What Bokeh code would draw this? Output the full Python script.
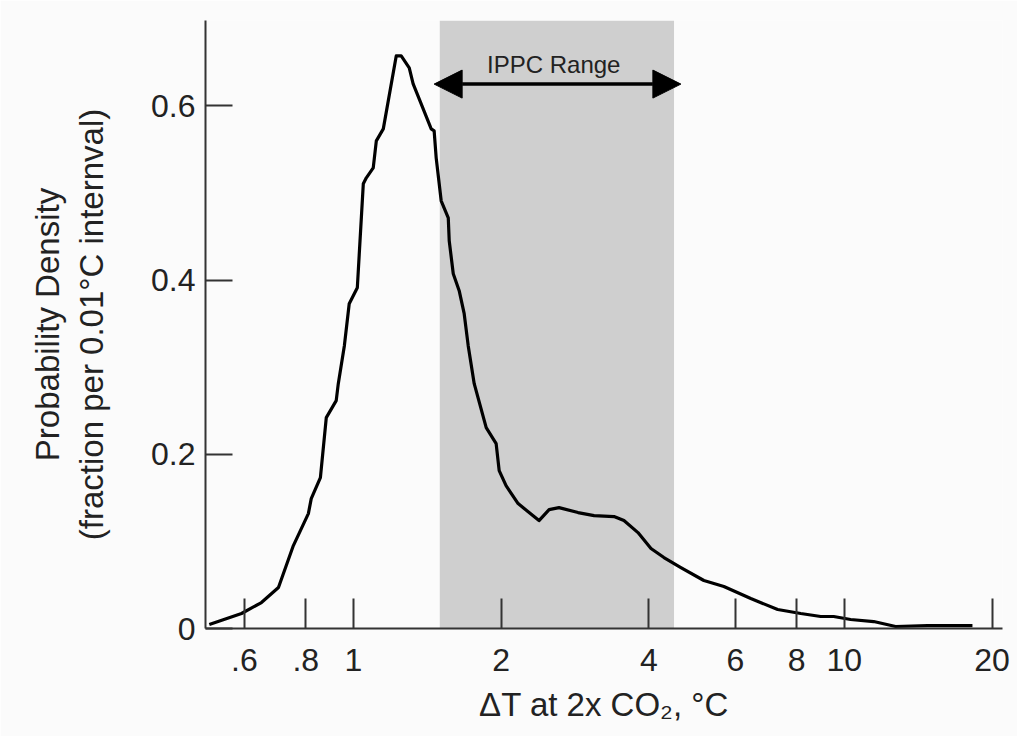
from bokeh.plotting import figure
from bokeh.models import (Range1d, FixedTicker, CustomJSTickFormatter, BoxAnnotation,
                          Arrow, NormalHead, Label)
from bokeh.embed import file_html
from bokeh.resources import INLINE

# Climate sensitivity (deg C at 2x CO2) and probability density
dT = [0.509, 0.592, 0.650, 0.704, 0.755, 0.810, 0.821, 0.857, 0.881, 0.923,
      0.932, 0.959, 0.981, 1.019, 1.048, 1.063, 1.098, 1.114, 1.151, 1.223,
      1.252, 1.300, 1.324, 1.362, 1.441, 1.461, 1.475, 1.510, 1.561, 1.568,
      1.598, 1.643, 1.682, 1.714, 1.763, 1.865, 1.954, 1.982, 2.047, 2.166,
      2.389, 2.505, 2.624, 2.869, 3.093, 3.396, 3.558, 3.800, 4.039, 4.292,
      4.647, 5.176, 5.685, 6.450, 7.317, 8.153, 8.954, 9.515, 10.30, 11.48,
      12.72, 14.78, 18.24]
density = [0.0046, 0.0172, 0.0298, 0.0470, 0.0952, 0.1319, 0.1491, 0.1732, 0.2421, 0.2616,
           0.2811, 0.3247, 0.3728, 0.3912, 0.5105, 0.5174, 0.5288, 0.5598, 0.5736, 0.6573,
           0.6573, 0.6436, 0.6252, 0.6080, 0.5736, 0.5713, 0.5403, 0.4910, 0.4715, 0.4451,
           0.4073, 0.3878, 0.3614, 0.3247, 0.2811, 0.2306, 0.2122, 0.1813, 0.1640, 0.1434,
           0.1239, 0.1365, 0.1388, 0.1331, 0.1296, 0.1285, 0.1239, 0.1101, 0.0918, 0.0815,
           0.0700, 0.0551, 0.0482, 0.0344, 0.0218, 0.0172, 0.0138, 0.0138, 0.0103, 0.0080,
           0.0023, 0.0034, 0.0034]

x_ticks = [0.6, 0.8, 1, 2, 4, 6, 8, 10, 20]
x_tick_labels = [".6", ".8", "1", "2", "4", "6", "8", "10", "20"]
y_ticks = [0, 0.2, 0.4, 0.6]
y_tick_labels = ["0", "0.2", "0.4", "0.6"]

ipcc_low, ipcc_high = 1.5, 4.5
arrow_y = 0.625
arrow_left, arrow_right = 1.461, 4.647
label_x, label_y = 2.56, 0.647

FONT = "Liberation Sans"
TXT = "#222222"
BG = "#fbfbfb"

p = figure(width=1017, height=736, x_axis_type="log",
           x_range=Range1d(0.5, 21), y_range=Range1d(0, 0.698),
           output_backend="svg", toolbar_location=None,
           min_border_left=205, min_border_right=15, min_border_top=20,
           min_border_bottom=108, background_fill_color=BG,
           border_fill_color=BG, outline_line_color=None)
p.grid.visible = False

band = BoxAnnotation(left=ipcc_low, right=ipcc_high, fill_color="#cfcfcf",
                     fill_alpha=1.0, line_color=None, level="underlay")
p.add_layout(band)

p.line(dT, density, line_color="black", line_width=3.2, line_join="round")

arrow = Arrow(start=NormalHead(size=28, fill_color="black", line_color="black"),
              end=NormalHead(size=28, fill_color="black", line_color="black"),
              x_start=arrow_left, y_start=arrow_y, x_end=arrow_right, y_end=arrow_y,
              line_width=3.5, line_color="black")
p.add_layout(arrow)
p.add_layout(Label(x=label_x, y=label_y, text="IPPC Range", text_align="center",
                   text_baseline="middle", text_font=FONT, text_font_size="24px",
                   text_color=TXT))

JS = """
for (let i = 0; i < tvals.length; i++) { if (Math.abs(tvals[i] - tick) < 1e-6) return tlabels[i]; }
return '';
"""
p.xaxis.ticker = FixedTicker(ticks=x_ticks)
p.xaxis.formatter = CustomJSTickFormatter(args=dict(tvals=x_ticks, tlabels=x_tick_labels), code=JS)
p.yaxis.ticker = FixedTicker(ticks=y_ticks)
p.yaxis.formatter = CustomJSTickFormatter(args=dict(tvals=y_ticks, tlabels=y_tick_labels), code=JS)

for ax in (p.xaxis[0], p.yaxis[0]):
    ax.axis_line_color = "#333333"
    ax.axis_line_width = 2
    ax.major_tick_line_color = "#333333"
    ax.major_tick_line_width = 2
    ax.major_tick_out = 0
    ax.minor_tick_line_color = None
    ax.major_label_text_font = FONT
    ax.major_label_text_font_size = "32px"
    ax.major_label_text_color = TXT
    ax.axis_label_text_font = FONT
    ax.axis_label_text_font_size = "33px"
    ax.axis_label_text_font_style = "normal"
    ax.axis_label_text_color = TXT

p.xaxis.major_tick_in = 30
p.yaxis.major_tick_in = 27
p.xaxis.major_label_standoff = 20
p.yaxis.major_label_standoff = 10
p.xaxis.axis_label = "ΔT at 2x CO₂, °C"
p.xaxis.axis_label_standoff = 12
p.yaxis.axis_label = "Probability Density\n(fraction per 0.01°C internval)"
p.yaxis.axis_label_standoff = 38

open("out.html", "w").write(file_html(p, INLINE))
